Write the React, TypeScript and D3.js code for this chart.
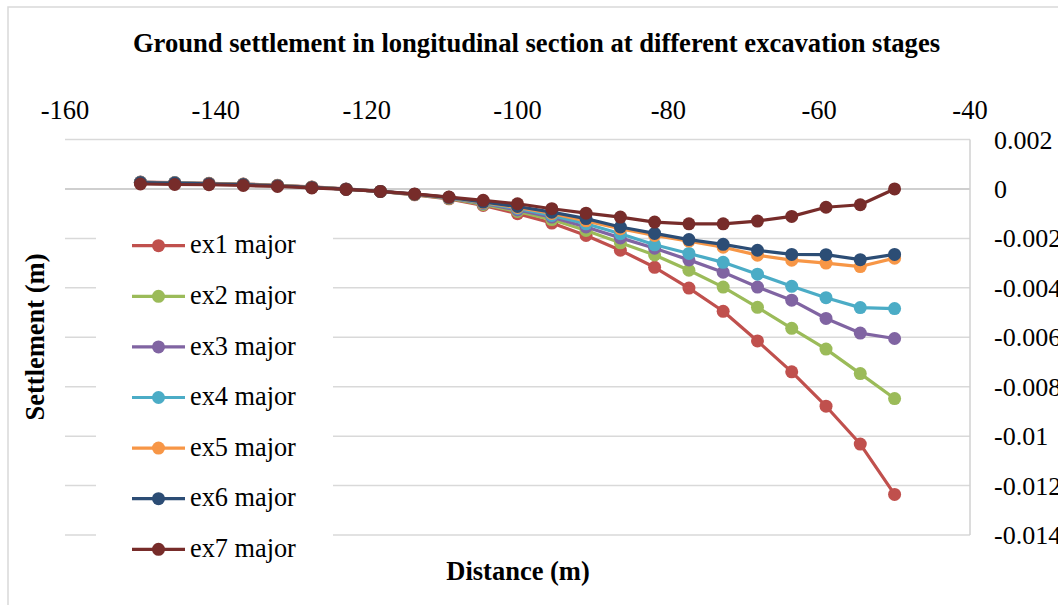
import React from "react";
import * as d3 from "d3";

const distances = [-150, -145.45, -140.91, -136.36, -131.82, -127.27, -122.73, -118.18, -113.64, -109.09, -104.55, -100, -95.45, -90.91, -86.36, -81.82, -77.27, -72.73, -68.18, -63.64, -59.09, -54.55, -50];

const ex1 = [0.00028, 0.00026, 0.00023, 0.0002, 0.00015, 0.00008, 0.0, -0.0001, -0.00024, -0.0004, -0.00067, -0.001, -0.00138, -0.00188, -0.00248, -0.00317, -0.00401, -0.00495, -0.00615, -0.0074, -0.00879, -0.01032, -0.01236];
const ex2 = [0.00027, 0.00025, 0.00022, 0.00019, 0.00014, 0.00007, -0.00001, -0.0001, -0.00023, -0.00038, -0.00063, -0.00091, -0.00124, -0.00168, -0.00218, -0.00267, -0.00329, -0.00397, -0.00479, -0.00564, -0.00648, -0.00747, -0.00848];
const ex3 = [0.00027, 0.00025, 0.00022, 0.00019, 0.00014, 0.00007, -0.00001, -0.0001, -0.00022, -0.00036, -0.00059, -0.00085, -0.00114, -0.00154, -0.00198, -0.0024, -0.00287, -0.00337, -0.00397, -0.0045, -0.00524, -0.00583, -0.00605];
const ex4 = [0.00027, 0.00025, 0.00022, 0.00019, 0.00014, 0.00007, -0.00001, -0.0001, -0.00022, -0.00035, -0.00057, -0.00079, -0.00107, -0.00141, -0.00181, -0.00226, -0.00261, -0.00297, -0.00345, -0.00394, -0.0044, -0.0048, -0.00484];
const ex5 = [0.00026, 0.00024, 0.00022, 0.00019, 0.00014, 0.00007, -0.00001, -0.0001, -0.00022, -0.00034, -0.00055, -0.00075, -0.00099, -0.00129, -0.00161, -0.00188, -0.00211, -0.00236, -0.00268, -0.00288, -0.003, -0.00314, -0.0028];
const ex6 = [0.00026, 0.00024, 0.00021, 0.00018, 0.00013, 0.00006, -0.00001, -0.0001, -0.00021, -0.00034, -0.00053, -0.00071, -0.00094, -0.0012, -0.00154, -0.0018, -0.00205, -0.00224, -0.00248, -0.00265, -0.00266, -0.00286, -0.00265];
const ex7 = [0.0002, 0.00018, 0.00017, 0.00014, 0.0001, 0.00004, -0.00002, -0.0001, -0.0002, -0.00033, -0.00046, -0.0006, -0.0008, -0.00098, -0.00114, -0.00134, -0.00141, -0.00141, -0.0013, -0.00111, -0.00074, -0.00064, 0];

const seriesNames = ["ex1 major", "ex2 major", "ex3 major", "ex4 major", "ex5 major", "ex6 major", "ex7 major"];
const seriesValues = [ex1, ex2, ex3, ex4, ex5, ex6, ex7];
const seriesColors = ["#C0504D", "#9BBB59", "#8064A2", "#4BACC6", "#F79646", "#2C4D75", "#772C2A"];

const xTicks = [-160, -140, -120, -100, -80, -60, -40];
const yTicks = [0.002, 0, -0.002, -0.004, -0.006, -0.008, -0.01, -0.012, -0.014];
const yTickLabels = ["0.002", "0", "-0.002", "-0.004", "-0.006", "-0.008", "-0.01", "-0.012", "-0.014"];

const FONT = "'Liberation Serif', 'Times New Roman', serif";

export default function App() {
  const W = 1058, H = 605;
  const x = d3.scaleLinear().domain([-160, -40]).range([65, 970]);
  const y = d3.scaleLinear().domain([0.002, -0.014]).range([139.5, 535]);
  const line = d3.line<number>().x((_, i) => x(distances[i])).y((d) => y(d));

  const legendY0 = 245.7;
  const legendStep = 50.6;

  return (
    <svg width={W} height={H} style={{ position: "absolute", left: 0, top: 0, background: "#fff" }}>
      <rect x={0} y={0} width={W} height={H} fill="#fff" />
      <rect x={8} y={7} width={1200} height={800} fill="#fff" stroke="#d9d9d9" strokeWidth={1.5} />
      <text x={536.5} y={52} textAnchor="middle" fontFamily={FONT} fontWeight="bold" fontSize={26.6} fill="#000">
        Ground settlement in longitudinal section at different excavation stages
      </text>
      {/* gridlines */}
      {yTicks.map((t) => (
        <line key={"g" + t} x1={65} x2={970} y1={y(t)} y2={y(t)} stroke={t === 0 ? "#bfbfbf" : "#d9d9d9"} strokeWidth={1.5} />
      ))}
      <line x1={970} x2={970} y1={y(0.002)} y2={y(-0.014)} stroke="#d0d0d0" strokeWidth={1.5} />
      {/* x tick labels at top */}
      {xTicks.map((t) => (
        <text key={"x" + t} x={x(t)} y={119} textAnchor="middle" fontFamily={FONT} fontSize={26.5} fill="#000">
          {t}
        </text>
      ))}
      {/* y tick labels at right */}
      {yTicks.map((t, i) => (
        <text key={"y" + t} x={994} y={y(t) + 9} fontFamily={FONT} fontSize={26} fill="#000">
          {yTickLabels[i]}
        </text>
      ))}
      {/* series */}
      {seriesValues.map((vals, si) => (
        <g key={seriesNames[si]}>
          <path d={line(vals) || ""} fill="none" stroke={seriesColors[si]} strokeWidth={3.2} strokeLinejoin="round" />
          {vals.map((v, i) => (
            <circle key={i} cx={x(distances[i])} cy={y(v)} r={6.5} fill={seriesColors[si]} />
          ))}
        </g>
      ))}
      {/* legend */}
      <rect x={96} y={222} width={237} height={350} fill="#fff" />
      {seriesNames.map((name, i) => {
        const cy = legendY0 + i * legendStep;
        return (
          <g key={"l" + name}>
            <line x1={132} x2={185} y1={cy} y2={cy} stroke={seriesColors[i]} strokeWidth={3.2} />
            <circle cx={158.5} cy={cy} r={6.5} fill={seriesColors[i]} />
            <text x={190} y={cy + 7.6} fontFamily={FONT} fontSize={26.3} fill="#000">
              {name}
            </text>
          </g>
        );
      })}
      {/* axis titles */}
      <text x={518} y={580} textAnchor="middle" fontFamily={FONT} fontWeight="bold" fontSize={26.5} fill="#000">
        Distance (m)
      </text>
      <text transform="translate(44,337) rotate(-90)" textAnchor="middle" fontFamily={FONT} fontWeight="bold" fontSize={26.5} fill="#000">
        Settlement (m)
      </text>
    </svg>
  );
}
